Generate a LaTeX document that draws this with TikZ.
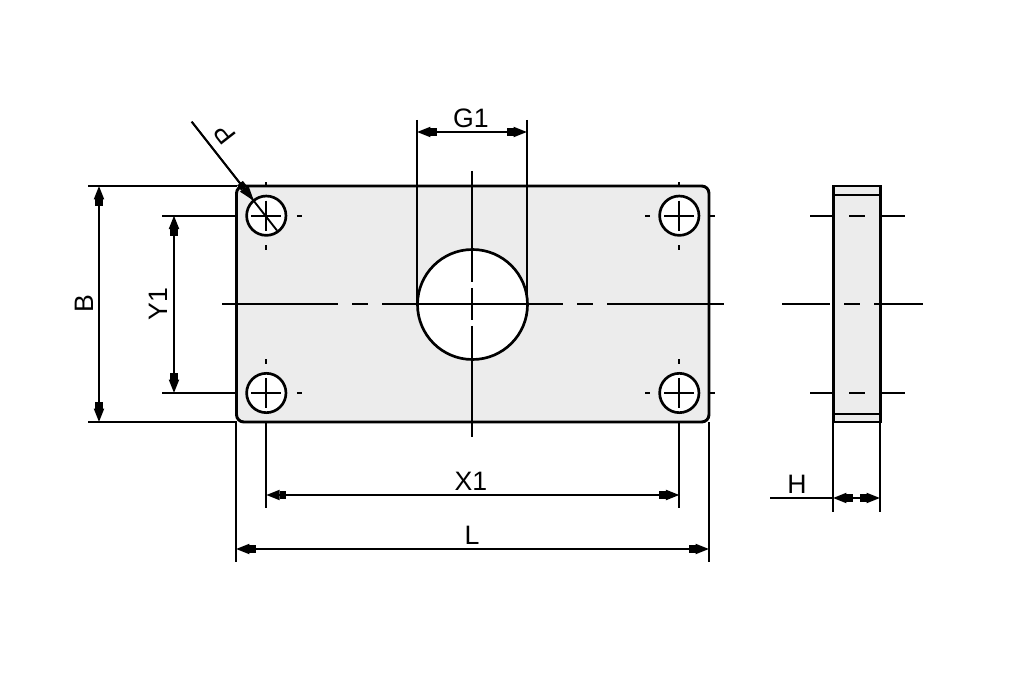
\documentclass[tikz,border=0pt]{standalone}
\usepackage{fontspec}
\setmainfont{Liberation Sans}
\usetikzlibrary{arrows.meta}
\definecolor{platefill}{RGB}{236,236,236}
\tikzset{
  x=0.75pt,y=-0.75pt,
  part/.style={draw=black,line width=2.2pt,fill=platefill},
  bore/.style={draw=black,line width=2pt,fill=white,circle,inner sep=0pt,outer sep=0pt},
  thin/.style={draw=black,line width=1.4pt},
  hair/.style={draw=black,line width=0.8pt},
  center/.style={draw=black,line width=1.4pt},
  dim/.style={draw=black,line width=1.4pt,
    {Triangle[length=10pt,width=7.5pt,sep=0pt]Rectangle[length=5pt,width=5.5pt,sep=0pt]}-{Rectangle[length=5pt,width=5.5pt,sep=0pt]Triangle[length=10pt,width=7.5pt,sep=0pt]}},
  lead/.style={draw=black,line width=1.4pt,
    -{Rectangle[length=5pt,width=5.5pt,sep=0pt]Triangle[length=12pt,width=7.5pt,sep=0pt]}},
  lbl/.style={font=\fontsize{20}{20}\selectfont,inner sep=0pt},
  anchorpt/.style={inner sep=0pt,minimum size=0pt,outer sep=0pt}
}
\begin{document}
\begin{tikzpicture}
\useasboundingbox (0,0) rectangle (1010,673);
% plate
\node[anchorpt] (pTL) at (236.5,186) {};
\node[anchorpt] (pBR) at (709,422) {};
\draw[part,rounded corners=5.5pt] (pTL.center) rectangle (pBR.center);
% side view
\node[anchorpt] (sTL) at (833.5,186) {};
\node[anchorpt] (sBR) at (880.5,422) {};
\draw[part] (sTL.center) rectangle (sBR.center);
\draw[hair] (833.5,195) -- (880.5,195);
\draw[hair] (833.5,414) -- (880.5,414);
% bores
\node[bore,minimum size=82.5pt] (big) at (472.5,304.5) {};
\node[bore,minimum size=29.5pt] (h1) at (266.3,215.7) {};
\node[bore,minimum size=29.5pt] (h2) at (679.3,215.7) {};
\node[bore,minimum size=29.5pt] (h3) at (266.3,393) {};
\node[bore,minimum size=29.5pt] (h4) at (679.3,393) {};
% centre lines main
\draw[center] (222,304) -- (338,304) (352,304) -- (368,304) (382,304) -- (563,304);
\draw[center] (577,304) -- (593,304) (607,304) -- (724,304);
\draw[center] (472,171) -- (472,282) (472,288) -- (472,320) (472,326) -- (472,437);
\foreach \h in {h1,h2,h3,h4}{
  \draw[center] ([xshift=-11.25pt]\h.center) -- ([xshift=11.25pt]\h.center);
  \draw[center] ([yshift=11.25pt]\h.center) -- ([yshift=-11.25pt]\h.center);
  \draw[center] ([xshift=23pt]\h.center) -- ([xshift=26.5pt]\h.center);
  \draw[center] ([xshift=-22pt]\h.center) -- ([xshift=-25.5pt]\h.center);
  \draw[center] ([yshift=-22pt]\h.center) -- ([yshift=-25.5pt]\h.center);
  \draw[center] ([yshift=22pt]\h.center) -- ([yshift=25.5pt]\h.center);
}
% side centre lines
\draw[center] (810,215.7) -- (833,215.7) (849,215.7) -- (865,215.7) (881,215.7) -- (905,215.7);
\draw[center] (810,393) -- (833,393) (849,393) -- (865,393) (881,393) -- (905,393);
\draw[center] (782,304) -- (830,304) (844,304) -- (860,304) (874,304) -- (923,304);
% B, Y1
\draw[thin] (88,186) -- (pTL.center);
\draw[thin] (88,422) -- (236.5,422);
\draw[thin] (162,215.7) -- (236.5,215.7);
\draw[thin] (162,393) -- (236.5,393);
\draw[dim] (99,186) -- (99,422);
\draw[dim] (174,215.7) -- (174,393);
\node[lbl,rotate=90] (B) at (84,304) {B};
\node[lbl,rotate=90] (Y1) at (158,304) {Y1};
% G1
\draw[thin] (417,120) -- (417,304);
\draw[thin] (527,120) -- (527,304);
\draw[dim] (417,132) -- (527,132);
\node[lbl] (G1) at (471,118) {G1};
% X1, L
\draw[thin] (266.3,422) -- (266.3,508);
\draw[thin] (679.3,422) -- (679.3,508);
\draw[thin] (236,422) -- (236,561.5);
\draw[thin] (709,422) -- (709,561.5);
\draw[dim] (266.3,495) -- (679.3,495);
\draw[dim] (236,549) -- (709,549);
\node[lbl] (X1) at (471,481) {X1};
\node[lbl] (L) at (472,535) {L};
% H
\draw[thin] (833,422) -- (833,511.5);
\draw[thin] (880,422) -- (880,511.5);
\draw[thin] (770,498) -- (833,498);
\draw[dim] (833,498) -- (880,498);
\node[lbl] (H) at (797,484) {H};
% R leader
\coordinate (rstart) at (191.7,121.7);
\coordinate (rend) at (277,230.5);
\draw[thin] (rstart) -- (rend);
\draw[lead] (rstart) -- (254,201);
\node[lbl,rotate=128] (P) at (225,134) {P};
\end{tikzpicture}
\end{document}
